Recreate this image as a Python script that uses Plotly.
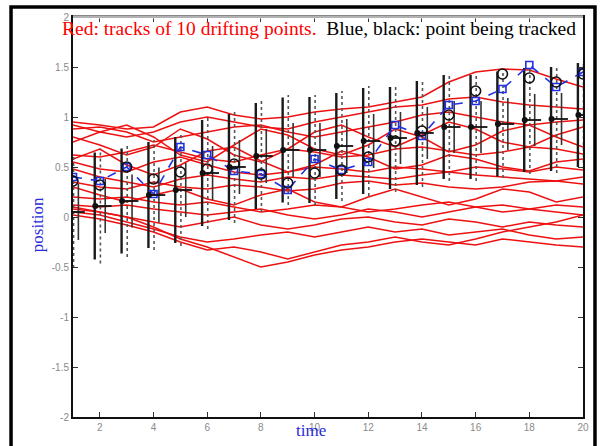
import plotly.graph_objects as go

# ---------------- data ----------------
time = list(range(1, 21))

# red tracks of drifting points
track_a = [0.95, 0.92, 0.88, 0.90, 1.05, 1.10, 1.02, 0.98, 1.00, 1.05, 1.08, 1.10, 1.15, 1.20, 1.35, 1.45, 1.48, 1.47, 1.38, 1.30]
track_b = [0.92, 0.85, 0.80, 0.85, 0.95, 1.00, 0.95, 0.90, 0.88, 0.95, 1.00, 1.05, 1.10, 1.12, 1.18, 1.20, 1.15, 1.12, 1.10, 1.08]
track_c = [0.88, 0.90, 0.85, 0.75, 0.80, 0.85, 0.90, 0.92, 0.85, 0.80, 0.85, 0.90, 0.95, 1.02, 1.05, 1.00, 0.95, 0.92, 0.95, 0.97]
track_d = [0.80, 0.72, 0.62, 0.70, 0.88, 0.78, 0.62, 0.55, 0.68, 0.85, 0.92, 0.80, 0.70, 0.82, 0.95, 0.88, 0.75, 0.70, 0.82, 0.90]
track_e = [0.75, 0.85, 0.92, 0.80, 0.62, 0.55, 0.72, 0.88, 0.82, 0.68, 0.62, 0.72, 0.88, 0.80, 0.65, 0.72, 0.86, 0.92, 0.80, 0.70]
track_f = [0.62, 0.60, 0.65, 0.72, 0.65, 0.58, 0.55, 0.62, 0.68, 0.65, 0.60, 0.62, 0.68, 0.70, 0.66, 0.62, 0.65, 0.70, 0.68, 0.63]
track_g = [0.58, 0.68, 0.52, 0.42, 0.52, 0.66, 0.70, 0.56, 0.45, 0.52, 0.66, 0.60, 0.48, 0.52, 0.62, 0.58, 0.50, 0.46, 0.55, 0.58]
track_h = [0.55, 0.48, 0.45, 0.55, 0.60, 0.52, 0.45, 0.42, 0.45, 0.50, 0.48, 0.45, 0.50, 0.48, 0.45, 0.50, 0.48, 0.45, 0.50, 0.47]
track_i = [0.48, 0.40, 0.35, 0.30, 0.38, 0.42, 0.38, 0.35, 0.40, 0.38, 0.42, 0.40, 0.38, 0.42, 0.45, 0.42, 0.40, 0.38, 0.36, 0.40]
track_j = [0.35, 0.30, 0.28, 0.35, 0.30, 0.28, 0.32, 0.30, 0.26, 0.28, 0.34, 0.36, 0.32, 0.34, 0.30, 0.28, 0.30, 0.35, 0.36, 0.33]
track_k = [0.30, 0.22, 0.15, 0.22, 0.28, 0.18, 0.12, 0.22, 0.28, 0.15, 0.10, 0.20, 0.28, 0.20, 0.12, 0.18, 0.28, 0.25, 0.15, 0.20]
track_l = [0.20, 0.18, 0.20, 0.15, 0.12, 0.15, 0.10, 0.05, 0.08, 0.12, 0.10, 0.05, 0.08, 0.12, 0.15, 0.10, 0.05, 0.08, 0.12, 0.10]
track_m = [0.12, 0.10, 0.12, 0.08, 0.05, 0.02, 0.05, 0.08, 0.02, -0.02, 0.02, 0.08, 0.05, 0.00, 0.05, 0.10, 0.12, 0.08, 0.05, 0.02]
track_n = [0.08, 0.05, 0.00, -0.05, -0.10, -0.05, 0.00, -0.08, -0.12, -0.08, -0.02, 0.00, -0.05, -0.08, -0.02, -0.05, -0.10, -0.05, -0.08, -0.10]
track_o = [0.05, 0.02, -0.05, -0.12, -0.20, -0.25, -0.22, -0.18, -0.15, -0.20, -0.15, -0.10, -0.15, -0.12, -0.18, -0.15, -0.12, -0.18, -0.22, -0.20]
track_p = [0.10, 0.05, 0.00, -0.10, -0.22, -0.30, -0.40, -0.50, -0.45, -0.38, -0.33, -0.30, -0.25, -0.22, -0.25, -0.28, -0.22, -0.25, -0.28, -0.30]
track_q = [0.02, -0.02, -0.08, -0.15, -0.25, -0.33, -0.30, -0.35, -0.42, -0.35, -0.28, -0.25, -0.20, -0.25, -0.28, -0.22, -0.15, -0.10, -0.05, 0.02]
red_tracks = [track_a, track_b, track_c, track_d, track_e, track_f, track_g, track_h, track_i,
              track_j, track_k, track_l, track_m, track_n, track_o, track_p, track_q]

# point being tracked (blue squares)
true_pos = [0.40, 0.36, 0.50, 0.23, 0.70, 0.62, 0.46, 0.43, 0.27, 0.58, 0.47, 0.55, 0.92, 0.81, 1.12, 1.16, 1.28, 1.52, 1.30, 1.45]
# open black circles
circle_est = [0.36, 0.32, 0.50, 0.38, 0.45, 0.48, 0.53, 0.43, 0.34, 0.44, 0.47, 0.60, 0.76, 0.86, 1.02, 1.26, 1.43, 1.39, 1.35, 1.43]
# filled black dots
dot_est = [0.05, 0.11, 0.16, 0.22, 0.27, 0.44, 0.50, 0.61, 0.67, 0.67, 0.71, 0.76, 0.79, 0.84, 0.90, 0.90, 0.93, 0.97, 0.98, 1.02]
# error bar half widths
thick_half = [0.53, 0.535, 0.525, 0.53, 0.53, 0.53, 0.53, 0.53, 0.525, 0.53, 0.53, 0.53, 0.51, 0.52, 0.52, 0.52, 0.525, 0.52, 0.52, 0.52]
thin_half = [0.28, 0.27, 0.265, 0.275, 0.27, 0.27, 0.27, 0.27, 0.27, 0.27, 0.27, 0.27, 0.26, 0.26, 0.26, 0.26, 0.26, 0.26, 0.26, 0.26]
dotted_half = [0.56, 0.575, 0.56, 0.55, 0.56, 0.56, 0.56, 0.56, 0.55, 0.55, 0.55, 0.55, 0.54, 0.54, 0.54, 0.54, 0.54, 0.54, 0.54, 0.54]

x_ticks = [2, 4, 6, 8, 10, 12, 14, 16, 18, 20]
y_ticks = [-2, -1.5, -1, -0.5, 0, 0.5, 1, 1.5, 2]
y_tick_labels = ["-2", "-1.5", "-1", "-0.5", "0", "0.5", "1", "1.5", "2"]

# ---------------- figure ----------------
fig = go.Figure()

for tr in red_tracks:
    fig.add_trace(go.Scatter(x=time, y=tr, mode="lines",
                             line=dict(color="#ee1111", width=1.5), hoverinfo="skip"))


def bar_segments(offset, half):
    xs, ys = [], []
    for t, c, h in zip(time, dot_est, half):
        xs += [t + offset, t + offset, None]
        ys += [c - h, c + h, None]
    return xs, ys


xs, ys = bar_segments(-0.19, thick_half)
fig.add_trace(go.Scatter(x=xs, y=ys, mode="lines", line=dict(color="#1a1a1a", width=2.4)))
xs, ys = bar_segments(0.02, dotted_half)
fig.add_trace(go.Scatter(x=xs, y=ys, mode="lines", line=dict(color="#555555", width=1.6, dash="dot")))
xs, ys = bar_segments(0.2, thin_half)
fig.add_trace(go.Scatter(x=xs, y=ys, mode="lines", line=dict(color="#333333", width=1.6)))

fig.add_trace(go.Scatter(x=time, y=true_pos, mode="lines+markers",
                         line=dict(color="#2030e0", width=1.6, dash="dash"),
                         marker=dict(symbol="square-open", size=7, color="#2030e0", line=dict(width=1.6))))
fig.add_trace(go.Scatter(x=time, y=circle_est, mode="markers",
                         marker=dict(symbol="circle-open", size=10, color="#111111", line=dict(width=1.6))))
fig.add_trace(go.Scatter(x=[t + 0.1 for t in time], y=dot_est, mode="markers",
                         marker=dict(symbol="line-ew", size=13, color="#111111", line=dict(width=1.8, color="#111111"))))
fig.add_trace(go.Scatter(x=[t - 0.17 for t in time], y=dot_est, mode="markers",
                         marker=dict(symbol="circle", size=6, color="#111111")))

tick_font = dict(family="Liberation Sans, Arial, sans-serif", size=10, color="#8a8a8a")
fig.update_xaxes(range=[1, 20], tickvals=x_ticks, ticks="inside", ticklen=5, tickcolor="#333333",
                 showline=True, linecolor="#111111", linewidth=2, mirror="ticks",
                 showgrid=False, zeroline=False, tickfont=tick_font)
fig.update_yaxes(range=[-2, 2], tickvals=y_ticks, ticktext=y_tick_labels, ticks="inside", ticklen=5,
                 tickcolor="#333333", showline=True, linecolor="#111111", linewidth=2, mirror="ticks",
                 showgrid=False, zeroline=False, tickfont=tick_font)

shapes = [
    # lighter top frame line drawn over the mirrored axis line
    dict(type="line", xref="paper", yref="paper", x0=0, x1=1, y0=1, y1=1,
         line=dict(color="#ffffff", width=3)),
    dict(type="line", xref="paper", yref="paper", x0=0, x1=1, y0=1, y1=1,
         line=dict(color="#999999", width=1.5)),
    dict(type="rect", xref="paper", yref="paper", x0=-0.1215, x1=1.0235, y0=-0.1, y1=1.025,
         line=dict(color="#000000", width=3.5)),
]

serif = "Liberation Serif, Times New Roman, serif"
annotations = [
    dict(xref="paper", yref="paper", x=-0.0255, y=0.972, xanchor="left", yanchor="middle", showarrow=False,
         text="<span style='color:#ff0000'>Red: tracks of 10 drifting points.</span>\u00a0 Blue, black: point being tracked",
         font=dict(family=serif, size=19.5, color="#000000")),
    dict(xref="paper", yref="paper", x=-0.0706, y=0.482, xanchor="center", yanchor="middle", showarrow=False,
         text="position", textangle=-90, font=dict(family=serif, size=17, color="#2a2ad8")),
    dict(xref="paper", yref="paper", x=0.4667, y=-0.034, xanchor="center", yanchor="middle", showarrow=False,
         text="time", font=dict(family=serif, size=17, color="#2a2ad8")),
]

fig.update_layout(width=602, height=446, margin=dict(l=73, r=19, t=17, b=29),
                  paper_bgcolor="white", plot_bgcolor="white", showlegend=False,
                  shapes=shapes, annotations=annotations)

fig.write_html("out.html", config={"displayModeBar": False},
               post_script="document.body.style.margin='0';document.body.style.overflow='hidden';")
